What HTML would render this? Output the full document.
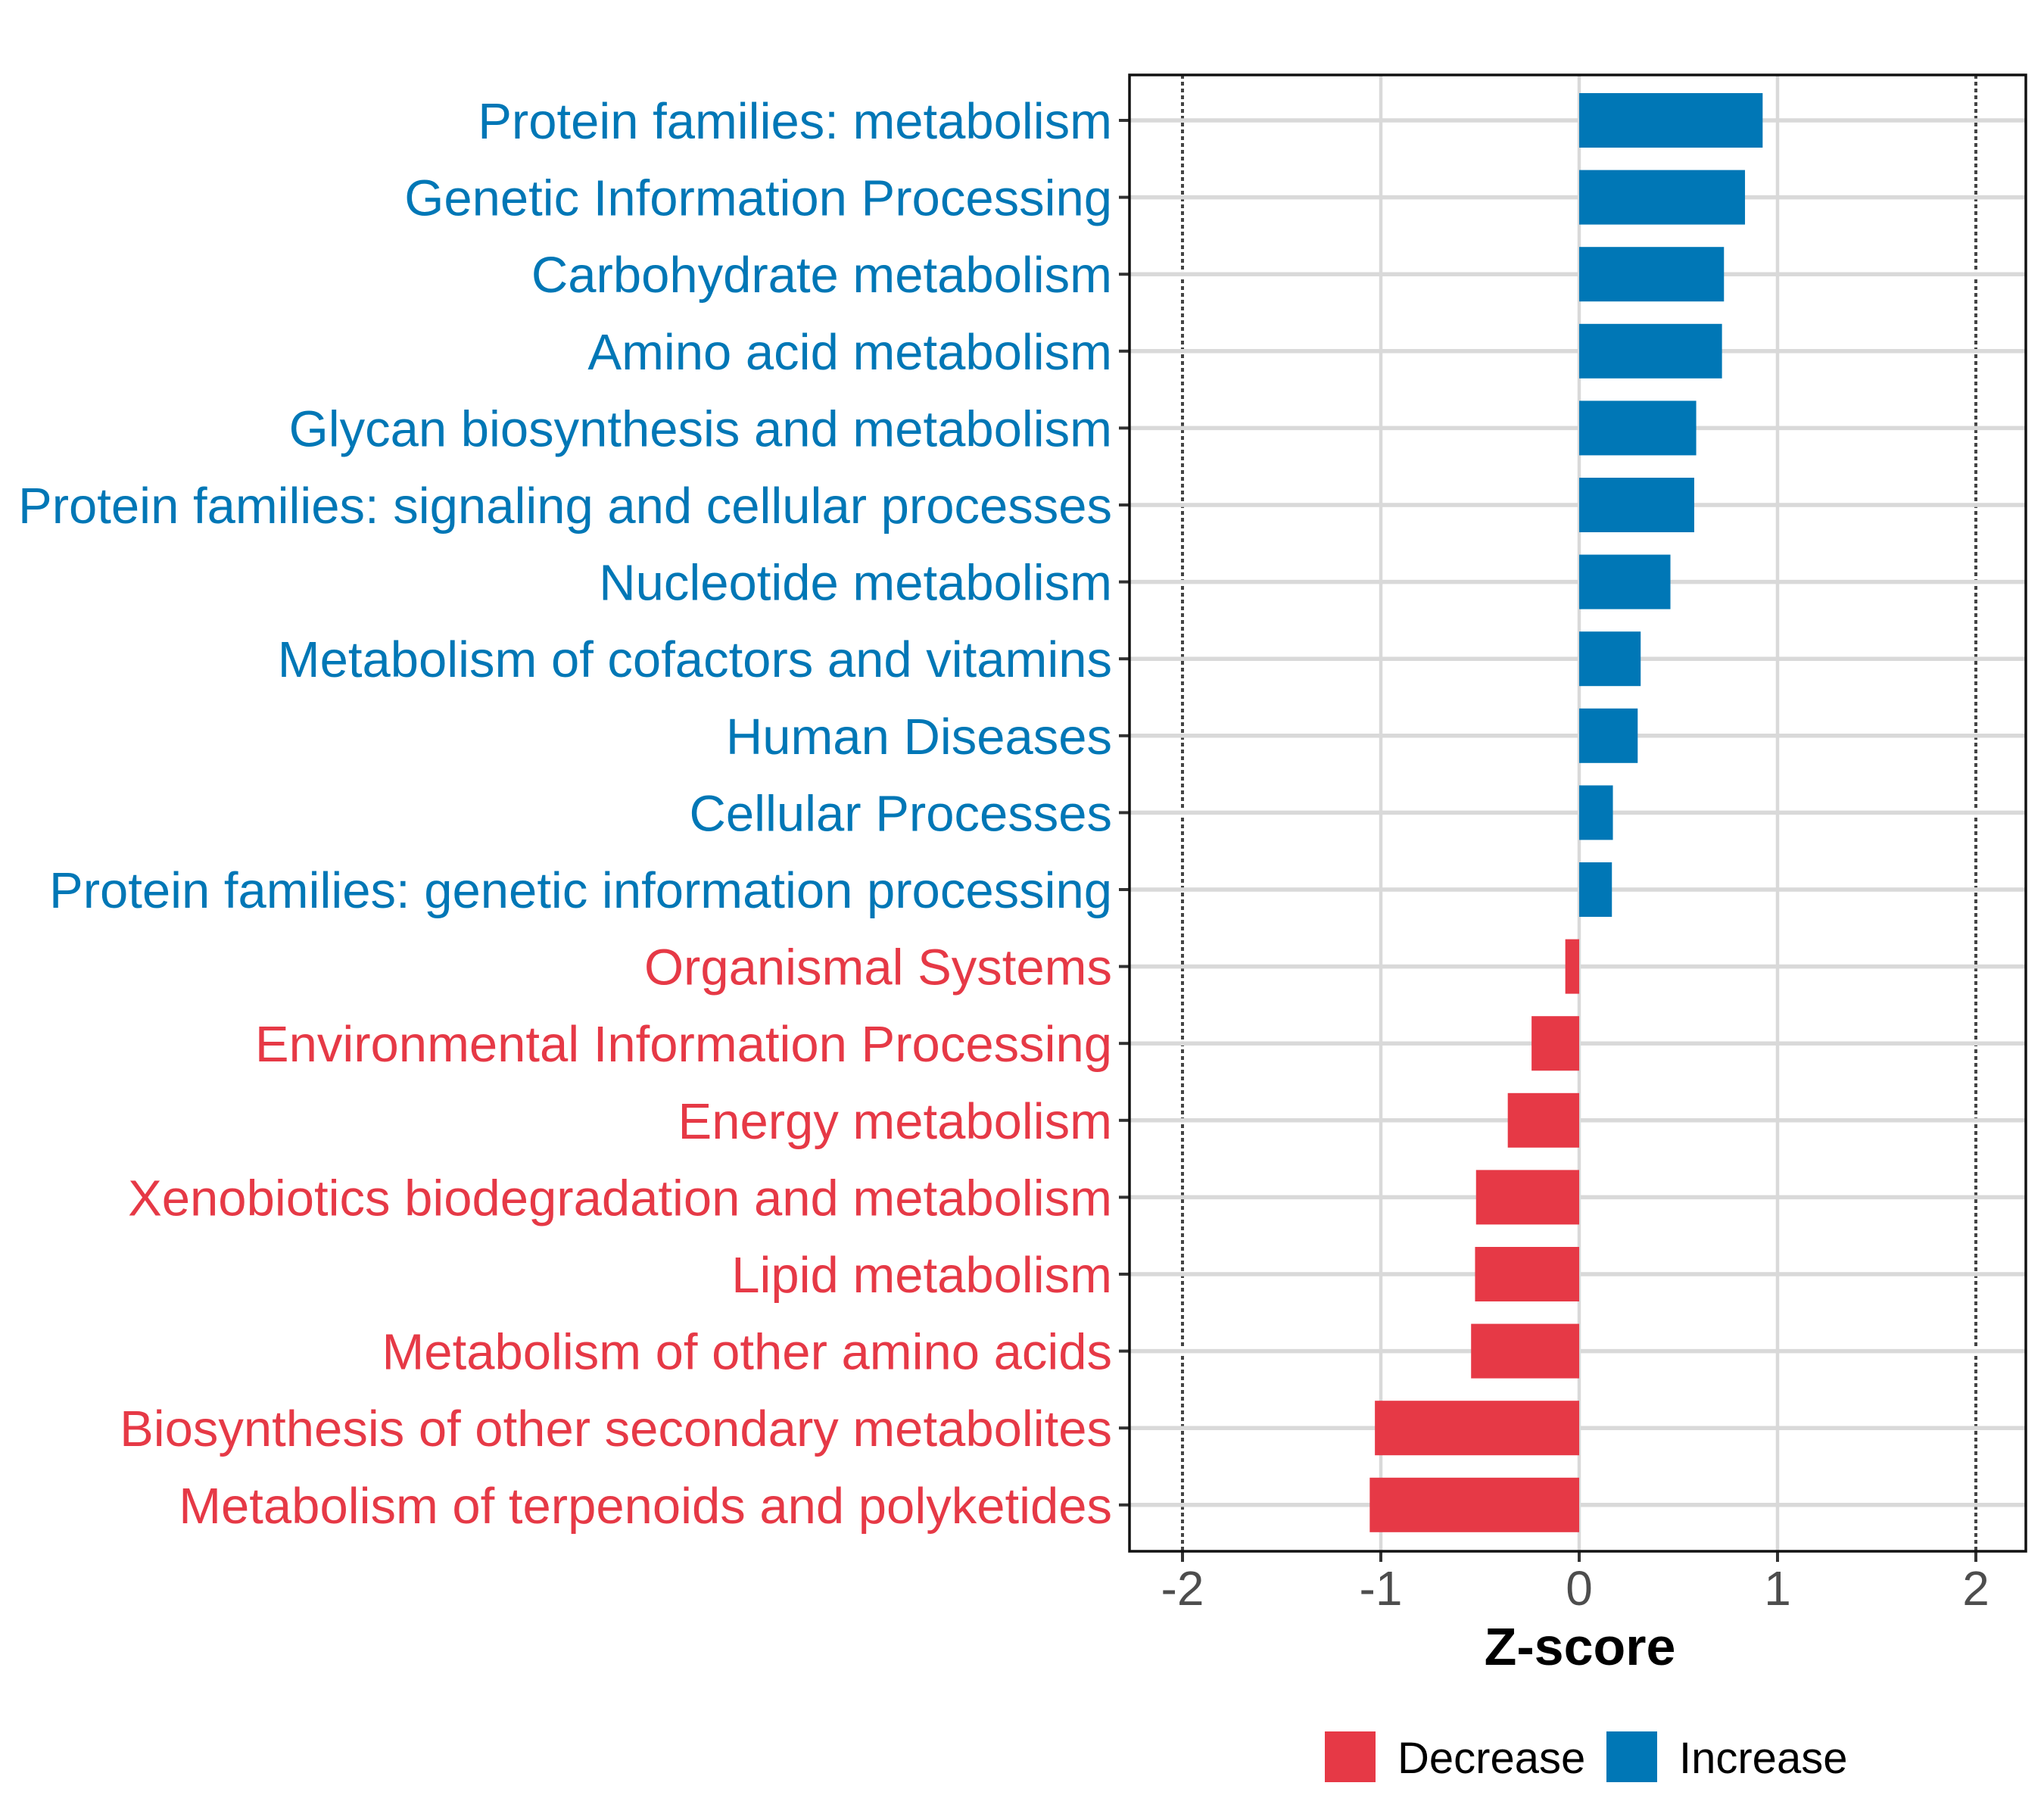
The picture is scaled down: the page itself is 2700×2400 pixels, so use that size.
<!DOCTYPE html>
<html><head><meta charset="utf-8"><style>
html,body{margin:0;padding:0;background:#fff;}
svg{display:block;font-family:"Liberation Sans",sans-serif;}
</style></head><body>
<svg id="chart" width="2700" height="2400" viewBox="0 0 2700 2400" xmlns="http://www.w3.org/2000/svg">
<rect x="0" y="0" width="2700" height="2400" fill="#fff"/>
<g id="grid"></g>
<g id="bars"></g>
<g id="ylabels"></g>
<g id="xaxis"></g>
<rect x="1492" y="99" width="1184" height="1950" fill="none" stroke="#111" stroke-width="3.5"/>
<text x="2087" y="2199" text-anchor="middle" font-size="70" font-weight="bold" fill="#000">Z-score</text>
<g>
<rect x="1750" y="2287" width="67" height="67" fill="#E63946"/>
<text x="1846" y="2342" font-size="58" fill="#000">Decrease</text>
<rect x="2122" y="2287" width="67" height="67" fill="#0077B6"/>
<text x="2218" y="2342" font-size="58" fill="#000">Increase</text>
</g>
</svg>
<script>
const categories = ["Protein families: metabolism","Genetic Information Processing","Carbohydrate metabolism","Amino acid metabolism","Glycan biosynthesis and metabolism","Protein families: signaling and cellular processes","Nucleotide metabolism","Metabolism of cofactors and vitamins","Human Diseases","Cellular Processes","Protein families: genetic information processing","Organismal Systems","Environmental Information Processing","Energy metabolism","Xenobiotics biodegradation and metabolism","Lipid metabolism","Metabolism of other amino acids","Biosynthesis of other secondary metabolites","Metabolism of terpenoids and polyketides"];
const zscores = [0.925,0.836,0.73,0.72,0.59,0.58,0.46,0.31,0.295,0.17,0.165,-0.07,-0.24,-0.36,-0.52,-0.525,-0.545,-1.03,-1.056];
const xTicks = [-2,-1,0,1,2];
const xTickLabels = ["-2","-1","0","1","2"];

const NS="http://www.w3.org/2000/svg";
const X0=2086, UNIT=262, Y0=159, STEP=101.6, BH=72;
const PL=1492, PR=2676, PT=99, PB=2049;
function xs(v){return X0+v*UNIT;}
function ys(i){return Y0+i*STEP;}
function mk(tag,attrs,parent){const e=document.createElementNS(NS,tag);for(const k in attrs)e.setAttribute(k,attrs[k]);parent.appendChild(e);return e;}
const grid=document.getElementById('grid'),bars=document.getElementById('bars'),yl=document.getElementById('ylabels'),xa=document.getElementById('xaxis');
xTicks.forEach((t,i)=>{
  const x=xs(t);
  let l;
  if(Math.abs(t)===2){
    l=mk('line',{x1:x,y1:PT,x2:x,y2:PB,stroke:'#444','stroke-width':4,'stroke-dasharray':'5 4'},grid);
  } else {
    l=mk('line',{x1:x,y1:PT,x2:x,y2:PB,stroke:'#d9d9d9','stroke-width':4.5},grid);
  }
  
  
  const tk=mk('line',{x1:x,y1:PB,x2:x,y2:PB+14,stroke:'#333','stroke-width':4},xa);
  
  
  const tx=mk('text',{x:x,y:2120,'text-anchor':'middle','font-size':64,fill:'#4d4d4d'},xa);
  tx.textContent=xTickLabels[i];
  
  
});
categories.forEach((c,i)=>{
  const y=ys(i);
  const g=mk('line',{x1:PL,y1:y,x2:PR,y2:y,stroke:'#d9d9d9','stroke-width':5.5},grid);
  
  
  const v=zscores[i];
  const col=v>=0?'#0077B6':'#E63946';
  const b=mk('rect',{x:Math.min(xs(0),xs(v)),y:y-BH/2,width:Math.abs(xs(v)-xs(0)),height:BH,fill:col},bars);
  
  
  const tk=mk('line',{x1:PL-14,y1:y,x2:PL,y2:y,stroke:'#333','stroke-width':4},yl);
  
  
  const t=mk('text',{x:1469,y:y+24,'text-anchor':'end','font-size':67,fill:col},yl);
  t.textContent=c;
  
  
});
</script>
</body></html>
